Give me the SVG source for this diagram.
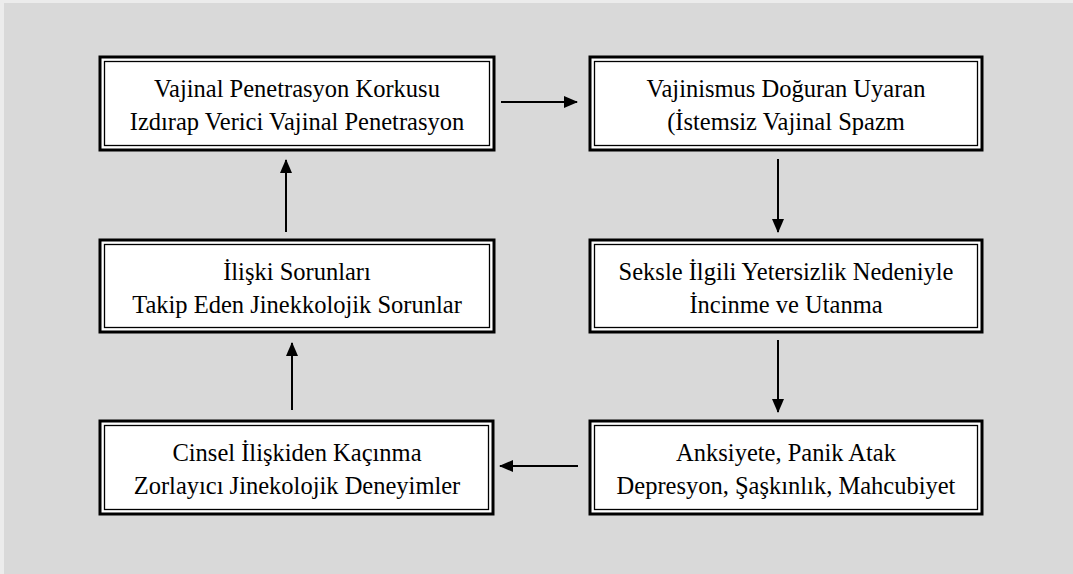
<svg xmlns="http://www.w3.org/2000/svg" width="1073" height="574" viewBox="0 0 1073 574">
  <defs>
    <style>
      .outer { fill: #ffffff; stroke: #000000; stroke-width: 3; }
      .inner { fill: none; stroke: #000000; stroke-width: 1.3; }
      .lbl { font-family: 'Liberation Serif', 'Times New Roman', serif; font-size: 24.5px; fill: #000000; text-anchor: middle; }
      .conn { stroke: #000000; stroke-width: 2; fill: none; marker-end: url(#arr); }
    </style>
    <marker id="arr" markerWidth="7" markerHeight="6" refX="6.5" refY="3" orient="auto" markerUnits="strokeWidth">
      <path d="M0,0 L7,3 L0,6 Z" fill="#000000"/>
    </marker>
  </defs>
  <rect x="0" y="0" width="1073" height="574" fill="#ececec"/>
  <rect x="4" y="3" width="1069" height="571" fill="#d9d9d9"/>

  <g id="connectors">
    <line class="conn" x1="501" y1="102" x2="577" y2="102"/>
    <line class="conn" x1="778" y1="159" x2="778" y2="232"/>
    <line class="conn" x1="778" y1="340" x2="778" y2="412"/>
    <line class="conn" x1="578" y1="466" x2="500" y2="466"/>
    <line class="conn" x1="292" y1="410" x2="292" y2="343"/>
    <line class="conn" x1="286" y1="232" x2="286" y2="160"/>
  </g>

  <g id="node1">
    <rect class="outer" x="100" y="57" width="394" height="93"/>
    <rect class="inner" x="104.5" y="61.5" width="385" height="84"/>
    <text class="lbl" x="297" y="97">Vajinal Penetrasyon Korkusu</text>
    <text class="lbl" x="297" y="130">Izdırap Verici Vajinal Penetrasyon</text>
  </g>

  <g id="node2">
    <rect class="outer" x="590" y="57" width="392" height="93"/>
    <rect class="inner" x="594.5" y="61.5" width="383" height="84"/>
    <text class="lbl" x="786" y="97">Vajinismus Doğuran Uyaran</text>
    <text class="lbl" x="786" y="130">(İstemsiz Vajinal Spazm</text>
  </g>

  <g id="node3">
    <rect class="outer" x="590" y="240" width="392" height="92"/>
    <rect class="inner" x="594.5" y="244.5" width="383" height="83"/>
    <text class="lbl" x="786" y="280">Seksle İlgili Yetersizlik Nedeniyle</text>
    <text class="lbl" x="786" y="313">İncinme ve Utanma</text>
  </g>

  <g id="node4">
    <rect class="outer" x="590" y="421" width="392" height="93"/>
    <rect class="inner" x="594.5" y="425.5" width="383" height="84"/>
    <text class="lbl" x="786" y="461">Anksiyete, Panik Atak</text>
    <text class="lbl" x="786" y="494">Depresyon, Şaşkınlık, Mahcubiyet</text>
  </g>

  <g id="node5">
    <rect class="outer" x="100" y="421" width="393" height="93"/>
    <rect class="inner" x="104.5" y="425.5" width="384" height="84"/>
    <text class="lbl" x="297" y="461">Cinsel İlişkiden Kaçınma</text>
    <text class="lbl" x="297" y="494">Zorlayıcı Jinekolojik Deneyimler</text>
  </g>

  <g id="node6">
    <rect class="outer" x="100" y="240" width="394" height="92"/>
    <rect class="inner" x="104.5" y="244.5" width="385" height="83"/>
    <text class="lbl" x="297" y="280">İlişki Sorunları</text>
    <text class="lbl" x="297" y="313">Takip Eden Jinekkolojik Sorunlar</text>
  </g>
</svg>
